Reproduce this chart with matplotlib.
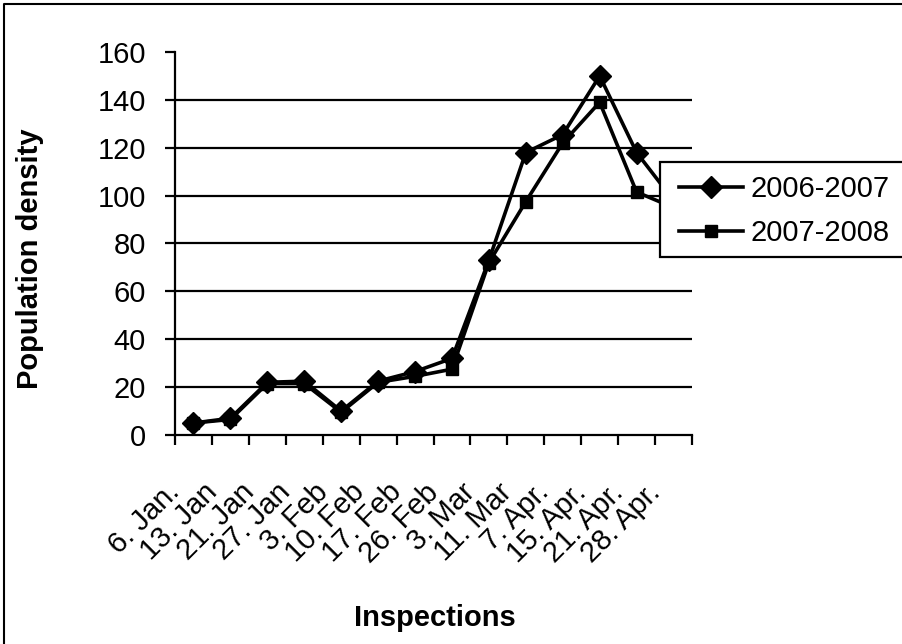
import numpy as np
import matplotlib
matplotlib.use("Agg")
import matplotlib.pyplot as plt
import matplotlib.transforms as mtransforms
from matplotlib.lines import Line2D
from matplotlib.patches import Rectangle

plt.rcParams['font.family'] = ['Liberation Sans', 'DejaVu Sans']

# data
inspections = ["6. Jan.", "13. Jan", "21. Jan", "27. Jan", "3. Feb", "10. Feb",
               "17. Feb", "26. Feb", "3. Mar", "11. Mar", "7. Apr.", "15. Apr.",
               "21. Apr.", "28. Apr."]
season_0607 = [5, 7, 22, 22.5, 10, 22.5, 26.5, 32, 73, 118, 125.5, 150, 118, 98]
season_0708 = [5, 6.5, 21.5, 21.5, 9.5, 22, 24.5, 27.5, 72, 97.5, 122, 139, 101.5, 95]
yticks = [0, 20, 40, 60, 80, 100, 120, 140, 160]

fig = plt.figure(figsize=(9.03, 6.44), dpi=100)
W, H = 903, 644
ax = fig.add_axes([175 / W, 1 - 435 / H, (692 - 175) / W, (435 - 52) / H])

x = np.arange(len(inspections))

# grid lines (none on the top value)
for v in yticks[1:-1]:
    ax.axhline(v, color='black', lw=1.6, zorder=1)

ax.plot(x, season_0708, color='black', lw=2.6, marker='s', ms=8.5, zorder=3)
ax.plot(x, season_0607, color='black', lw=2.6, marker='D', ms=11.5, zorder=4)

ax.set_xlim(-0.5, len(inspections) - 0.5)
ax.set_ylim(0, 160)

ax.spines['top'].set_visible(False)
ax.spines['right'].set_visible(False)
ax.spines['left'].set_linewidth(1.6)
ax.spines['bottom'].set_linewidth(1.6)

ax.set_yticks(yticks)
ax.tick_params(axis='y', direction='out', length=7, width=1.6, pad=14,
               labelsize=21)

ax.set_xticks(x)
ax.set_xticklabels(inspections, rotation=45, ha='right', fontsize=21)
ax.set_xticks(np.arange(-0.5, len(inspections)), minor=True)
ax.tick_params(axis='x', which='major', length=0, pad=31)
ax.tick_params(axis='x', which='minor', direction='out', length=7, width=1.6)

offset = mtransforms.ScaledTranslation(-8 / 100, 0, fig.dpi_scale_trans)
for lab in ax.get_xticklabels():
    lab.set_transform(lab.get_transform() + offset)

fig.text(30 / W, 1 - 259 / H, 'Population density', rotation=90,
         ha='center', va='center', fontsize=21, fontweight='bold')
fig.text(435 / W, 1 - 618 / H, 'Inspections', ha='center', va='center',
         fontsize=21, fontweight='bold')

# legend box runs past the right edge of the picture
fig.add_artist(Rectangle((660 / W, 1 - 257 / H), 300 / W, 95 / H,
                         transform=fig.transFigure, facecolor='white',
                         edgecolor='black', lw=1.6, zorder=9))
handles = [Line2D([], [], color='black', lw=2.6, marker='D', ms=11.5),
           Line2D([], [], color='black', lw=2.6, marker='s', ms=8.5)]
leg = fig.legend(handles, ['2006-2007', '2007-2008'], loc='upper left',
                 bbox_to_anchor=(670 / W, 1 - 166 / H), borderaxespad=0,
                 fontsize=21, frameon=False, handlelength=2.2,
                 handletextpad=0.25, labelspacing=0.55, borderpad=0.3)
leg.set_zorder(10)

# outer frame of the chart (left and top edges visible)
fig.add_artist(Line2D([4 / W, 4 / W, 1], [0, 1 - 4 / H, 1 - 4 / H],
                      transform=fig.transFigure, color='black', lw=1.5))

fig.savefig('out.png', dpi=100)
